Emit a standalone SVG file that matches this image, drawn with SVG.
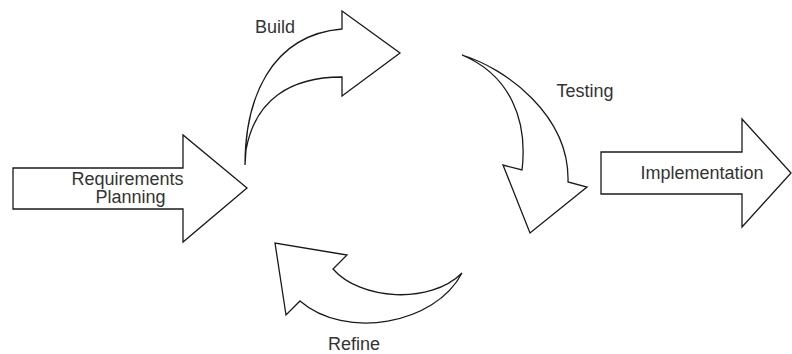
<svg xmlns="http://www.w3.org/2000/svg" width="792" height="354" viewBox="0 0 792 354">
<style>
.s{fill:#ffffff;stroke:#1a1a1a;stroke-width:1.3;stroke-linejoin:miter}
.t{font-family:"Liberation Sans",Arial,sans-serif;font-size:18px;fill:#333333;text-anchor:middle}
</style>
<rect width="792" height="354" fill="#ffffff"/>
<g id="requirements">
<path class="s" d="M13,168 L183,168 L183,135 L247,188 L183,242 L183,209 L13,209 Z"/>
<text class="t" x="127.5" y="184.5">Requirements</text>
<text class="t" x="130.5" y="203">Planning</text>
</g>
<g id="implementation">
<path class="s" d="M601,152 L742,152 L742,119 L791,173 L742,227 L742,194 L601,194 Z"/>
<text class="t" x="702" y="179">Implementation</text>
</g>
<g id="connectors">
<g id="build">
<path class="s" d="M245,165 C245,100 270,35 342,29 L342,11 L400,53 L342,96 L342,77 C290,77 255,100 246,150 Z"/>
<text class="t" x="275" y="33">Build</text>
</g>
<g id="testing">
<path class="s" d="M462,55 C505,68 570,115 568,182 L587,187 L530,233 L503,165 L522,170 C528,120 510,75 462,55 Z"/>
<text class="t" x="585" y="97">Testing</text>
</g>
<g id="refine">
<path class="s" d="M462,273 C435,325 345,340 300,301 L286,315 L275,243 L347,255 L333,269 C360,300 430,305 462,273 Z"/>
<text class="t" x="354" y="350">Refine</text>
</g>
</g>
</svg>
